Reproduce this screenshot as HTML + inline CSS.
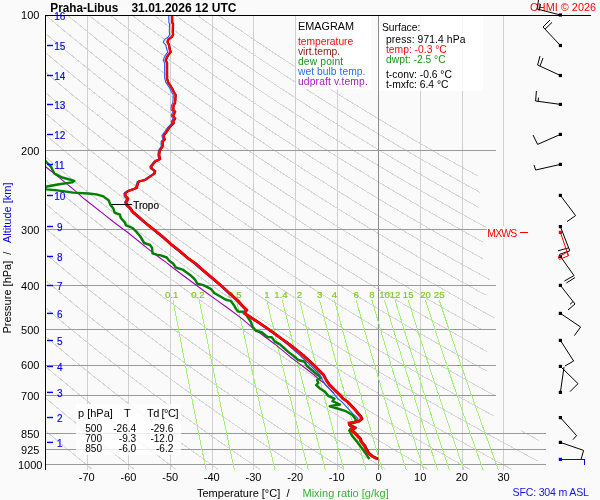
<!DOCTYPE html>
<html lang="cs"><head><meta charset="utf-8"><title>Praha-Libus EMAGRAM</title>
<style>html,body{margin:0;padding:0;background:#fafafa;overflow:hidden}svg{display:block;will-change:transform;opacity:0.999}</style>
</head><body>
<svg width="600" height="500" viewBox="0 0 600 500" font-family="'Liberation Sans', sans-serif">
<rect x="0" y="0" width="600" height="500" fill="#fafafa"/>
<defs><clipPath id="cp"><rect x="45.5" y="15.5" width="520" height="454.3"/></clipPath></defs>
<g stroke="#d6d6d6" stroke-width="1" fill="none" clip-path="url(#cp)" shape-rendering="crispEdges">
<polyline points="30.9,418.3 32.1,419.2 33.2,420.2 34.4,421.2 35.5,422.2 36.6,423.2 37.7,424.1 38.9,425.1 40.0,426.0 41.1,427.0 42.2,427.9 43.3,428.9 44.4,429.8 45.5,430.7 46.6,431.7 47.7,432.6 48.8,433.5 49.9,434.4 50.9,435.3 52.0,436.2 53.1,437.1 54.2,438.0 55.2,438.9 56.3,439.8 57.3,440.7 58.4,441.6 59.4,442.5 60.5,443.3 61.5,444.2 62.6,445.1 63.6,445.9 64.6,446.8 65.7,447.7 66.7,448.5 67.7,449.4 68.8,450.2 69.8,451.0 70.8,451.9 71.8,452.7 72.8,453.5 73.8,454.4 74.8,455.2 75.8,456.0 76.8,456.8 77.8,457.6 78.8,458.4 79.8,459.3 80.8,460.1 81.8,460.9 82.7,461.6 83.7,462.4 84.7,463.2 85.7,464.0 86.6,464.8 87.6,465.6 88.6,466.4 89.5,467.1 90.5,467.9 91.4,468.7 92.4,469.4"/>
<polyline points="30.2,384.8 31.6,386.0 33.0,387.2 34.3,388.3 35.6,389.5 37.0,390.6 38.3,391.7 39.6,392.9 40.9,394.0 42.3,395.1 43.6,396.2 44.9,397.3 46.2,398.4 47.5,399.5 48.7,400.6 50.0,401.7 51.3,402.8 52.6,403.9 53.8,404.9 55.1,406.0 56.3,407.0 57.6,408.1 58.8,409.1 60.1,410.2 61.3,411.2 62.6,412.2 63.8,413.2 65.0,414.3 66.2,415.3 67.4,416.3 68.7,417.3 69.9,418.3 71.1,419.2 72.3,420.2 73.4,421.2 74.6,422.2 75.8,423.2 77.0,424.1 78.2,425.1 79.3,426.0 80.5,427.0 81.7,427.9 82.8,428.9 84.0,429.8 85.1,430.7 86.3,431.7 87.4,432.6 88.6,433.5 89.7,434.4 90.8,435.3 92.0,436.2 93.1,437.1 94.2,438.0 95.3,438.9 96.4,439.8 97.6,440.7 98.7,441.6 99.8,442.5 100.9,443.3 102.0,444.2 103.1,445.1 104.1,445.9 105.2,446.8 106.3,447.7 107.4,448.5 108.5,449.4 109.5,450.2 110.6,451.0 111.7,451.9 112.7,452.7 113.8,453.5 114.9,454.4 115.9,455.2 117.0,456.0 118.0,456.8 119.0,457.6 120.1,458.4 121.1,459.3 122.2,460.1 123.2,460.9 124.2,461.6 125.2,462.4 126.3,463.2 127.3,464.0 128.3,464.8 129.3,465.6 130.3,466.4 131.3,467.1 132.3,467.9 133.3,468.7 134.3,469.4"/>
<polyline points="31.2,354.3 32.8,355.7 34.4,357.0 36.0,358.4 37.5,359.7 39.1,361.1 40.6,362.4 42.2,363.7 43.7,365.0 45.2,366.3 46.8,367.6 48.3,368.9 49.8,370.2 51.3,371.4 52.8,372.7 54.2,373.9 55.7,375.2 57.2,376.4 58.7,377.6 60.1,378.8 61.6,380.0 63.0,381.2 64.5,382.4 65.9,383.6 67.3,384.8 68.7,386.0 70.2,387.2 71.6,388.3 73.0,389.5 74.4,390.6 75.7,391.7 77.1,392.9 78.5,394.0 79.9,395.1 81.3,396.2 82.6,397.3 84.0,398.4 85.3,399.5 86.7,400.6 88.0,401.7 89.3,402.8 90.7,403.9 92.0,404.9 93.3,406.0 94.6,407.0 95.9,408.1 97.3,409.1 98.6,410.2 99.8,411.2 101.1,412.2 102.4,413.2 103.7,414.3 105.0,415.3 106.3,416.3 107.5,417.3 108.8,418.3 110.0,419.2 111.3,420.2 112.5,421.2 113.8,422.2 115.0,423.2 116.3,424.1 117.5,425.1 118.7,426.0 119.9,427.0 121.2,427.9 122.4,428.9 123.6,429.8 124.8,430.7 126.0,431.7 127.2,432.6 128.4,433.5 129.6,434.4 130.8,435.3 131.9,436.2 133.1,437.1 134.3,438.0 135.5,438.9 136.6,439.8 137.8,440.7 138.9,441.6 140.1,442.5 141.2,443.3 142.4,444.2 143.5,445.1 144.7,445.9 145.8,446.8 146.9,447.7 148.1,448.5 149.2,449.4 150.3,450.2 151.4,451.0 152.6,451.9 153.7,452.7 154.8,453.5 155.9,454.4 157.0,455.2 158.1,456.0 159.2,456.8 160.3,457.6 161.4,458.4 162.5,459.3 163.5,460.1 164.6,460.9 165.7,461.6 166.8,462.4 167.8,463.2 168.9,464.0 170.0,464.8 171.0,465.6 172.1,466.4 173.1,467.1 174.2,467.9 175.2,468.7 176.3,469.4"/>
<polyline points="31.6,324.7 33.4,326.2 35.3,327.8 37.1,329.4 38.9,331.0 40.7,332.5 42.5,334.0 44.3,335.5 46.1,337.1 47.9,338.6 49.6,340.0 51.4,341.5 53.1,343.0 54.8,344.4 56.5,345.9 58.3,347.3 60.0,348.7 61.6,350.1 63.3,351.5 65.0,352.9 66.7,354.3 68.3,355.7 70.0,357.0 71.6,358.4 73.3,359.7 74.9,361.1 76.5,362.4 78.1,363.7 79.7,365.0 81.3,366.3 82.9,367.6 84.5,368.9 86.1,370.2 87.6,371.4 89.2,372.7 90.7,373.9 92.3,375.2 93.8,376.4 95.3,377.6 96.9,378.8 98.4,380.0 99.9,381.2 101.4,382.4 102.9,383.6 104.4,384.8 105.9,386.0 107.3,387.2 108.8,388.3 110.3,389.5 111.7,390.6 113.2,391.7 114.6,392.9 116.1,394.0 117.5,395.1 118.9,396.2 120.4,397.3 121.8,398.4 123.2,399.5 124.6,400.6 126.0,401.7 127.4,402.8 128.8,403.9 130.2,404.9 131.6,406.0 132.9,407.0 134.3,408.1 135.7,409.1 137.0,410.2 138.4,411.2 139.7,412.2 141.1,413.2 142.4,414.3 143.7,415.3 145.1,416.3 146.4,417.3 147.7,418.3 149.0,419.2 150.3,420.2 151.6,421.2 152.9,422.2 154.2,423.2 155.5,424.1 156.8,425.1 158.1,426.0 159.4,427.0 160.6,427.9 161.9,428.9 163.2,429.8 164.4,430.7 165.7,431.7 166.9,432.6 168.2,433.5 169.4,434.4 170.7,435.3 171.9,436.2 173.1,437.1 174.4,438.0 175.6,438.9 176.8,439.8 178.0,440.7 179.2,441.6 180.4,442.5 181.6,443.3 182.8,444.2 184.0,445.1 185.2,445.9 186.4,446.8 187.6,447.7 188.8,448.5 189.9,449.4 191.1,450.2 192.3,451.0 193.4,451.9 194.6,452.7 195.8,453.5 196.9,454.4 198.1,455.2 199.2,456.0 200.4,456.8 201.5,457.6 202.6,458.4 203.8,459.3 204.9,460.1 206.0,460.9 207.2,461.6 208.3,462.4 209.4,463.2 210.5,464.0 211.6,464.8 212.7,465.6 213.8,466.4 214.9,467.1 216.0,467.9 217.1,468.7 218.2,469.4"/>
<polyline points="30.9,295.3 33.0,297.2 35.2,299.0 37.3,300.8 39.4,302.6 41.5,304.4 43.6,306.2 45.6,307.9 47.7,309.7 49.7,311.4 51.7,313.1 53.7,314.8 55.7,316.5 57.7,318.1 59.7,319.8 61.6,321.4 63.6,323.0 65.5,324.7 67.5,326.2 69.4,327.8 71.3,329.4 73.2,331.0 75.1,332.5 76.9,334.0 78.8,335.5 80.7,337.1 82.5,338.6 84.3,340.0 86.1,341.5 88.0,343.0 89.8,344.4 91.6,345.9 93.3,347.3 95.1,348.7 96.9,350.1 98.6,351.5 100.4,352.9 102.1,354.3 103.9,355.7 105.6,357.0 107.3,358.4 109.0,359.7 110.7,361.1 112.4,362.4 114.1,363.7 115.7,365.0 117.4,366.3 119.0,367.6 120.7,368.9 122.3,370.2 124.0,371.4 125.6,372.7 127.2,373.9 128.8,375.2 130.4,376.4 132.0,377.6 133.6,378.8 135.2,380.0 136.8,381.2 138.3,382.4 139.9,383.6 141.4,384.8 143.0,386.0 144.5,387.2 146.1,388.3 147.6,389.5 149.1,390.6 150.6,391.7 152.1,392.9 153.6,394.0 155.1,395.1 156.6,396.2 158.1,397.3 159.6,398.4 161.1,399.5 162.5,400.6 164.0,401.7 165.5,402.8 166.9,403.9 168.4,404.9 169.8,406.0 171.2,407.0 172.6,408.1 174.1,409.1 175.5,410.2 176.9,411.2 178.3,412.2 179.7,413.2 181.1,414.3 182.5,415.3 183.9,416.3 185.3,417.3 186.6,418.3 188.0,419.2 189.4,420.2 190.7,421.2 192.1,422.2 193.4,423.2 194.8,424.1 196.1,425.1 197.5,426.0 198.8,427.0 200.1,427.9 201.4,428.9 202.8,429.8 204.1,430.7 205.4,431.7 206.7,432.6 208.0,433.5 209.3,434.4 210.6,435.3 211.9,436.2 213.1,437.1 214.4,438.0 215.7,438.9 217.0,439.8 218.2,440.7 219.5,441.6 220.8,442.5 222.0,443.3 223.3,444.2 224.5,445.1 225.7,445.9 227.0,446.8 228.2,447.7 229.5,448.5 230.7,449.4 231.9,450.2 233.1,451.0 234.3,451.9 235.5,452.7 236.8,453.5 238.0,454.4 239.2,455.2 240.4,456.0 241.6,456.8 242.7,457.6 243.9,458.4 245.1,459.3 246.3,460.1 247.5,460.9 248.6,461.6 249.8,462.4 251.0,463.2 252.1,464.0 253.3,464.8 254.5,465.6 255.6,466.4 256.8,467.1 257.9,467.9 259.0,468.7 260.2,469.4"/>
<polyline points="30.4,267.4 32.9,269.5 35.4,271.6 37.8,273.7 40.2,275.8 42.6,277.8 45.0,279.9 47.4,281.9 49.7,283.8 52.0,285.8 54.3,287.8 56.6,289.7 58.9,291.6 61.2,293.5 63.4,295.3 65.7,297.2 67.9,299.0 70.1,300.8 72.3,302.6 74.4,304.4 76.6,306.2 78.7,307.9 80.9,309.7 83.0,311.4 85.1,313.1 87.2,314.8 89.3,316.5 91.3,318.1 93.4,319.8 95.4,321.4 97.5,323.0 99.5,324.7 101.5,326.2 103.5,327.8 105.5,329.4 107.4,331.0 109.4,332.5 111.3,334.0 113.3,335.5 115.2,337.1 117.1,338.6 119.0,340.0 120.9,341.5 122.8,343.0 124.7,344.4 126.6,345.9 128.4,347.3 130.3,348.7 132.1,350.1 133.9,351.5 135.8,352.9 137.6,354.3 139.4,355.7 141.2,357.0 142.9,358.4 144.7,359.7 146.5,361.1 148.2,362.4 150.0,363.7 151.7,365.0 153.5,366.3 155.2,367.6 156.9,368.9 158.6,370.2 160.3,371.4 162.0,372.7 163.7,373.9 165.4,375.2 167.0,376.4 168.7,377.6 170.4,378.8 172.0,380.0 173.6,381.2 175.3,382.4 176.9,383.6 178.5,384.8 180.1,386.0 181.7,387.2 183.3,388.3 184.9,389.5 186.5,390.6 188.1,391.7 189.7,392.9 191.2,394.0 192.8,395.1 194.3,396.2 195.9,397.3 197.4,398.4 198.9,399.5 200.5,400.6 202.0,401.7 203.5,402.8 205.0,403.9 206.5,404.9 208.0,406.0 209.5,407.0 211.0,408.1 212.5,409.1 214.0,410.2 215.4,411.2 216.9,412.2 218.3,413.2 219.8,414.3 221.2,415.3 222.7,416.3 224.1,417.3 225.6,418.3 227.0,419.2 228.4,420.2 229.8,421.2 231.2,422.2 232.6,423.2 234.0,424.1 235.4,425.1 236.8,426.0 238.2,427.0 239.6,427.9 241.0,428.9 242.3,429.8 243.7,430.7 245.1,431.7 246.4,432.6 247.8,433.5 249.1,434.4 250.5,435.3 251.8,436.2 253.2,437.1 254.5,438.0 255.8,438.9 257.1,439.8 258.5,440.7 259.8,441.6 261.1,442.5 262.4,443.3 263.7,444.2 265.0,445.1 266.3,445.9 267.6,446.8 268.9,447.7 270.1,448.5 271.4,449.4 272.7,450.2 274.0,451.0 275.2,451.9 276.5,452.7 277.7,453.5 279.0,454.4 280.2,455.2 281.5,456.0 282.7,456.8 284.0,457.6 285.2,458.4 286.4,459.3 287.7,460.1 288.9,460.9 290.1,461.6 291.3,462.4 292.5,463.2 293.8,464.0 295.0,464.8 296.2,465.6 297.4,466.4 298.6,467.1 299.8,467.9 301.0,468.7 302.1,469.4"/>
<polyline points="32.0,242.2 34.8,244.6 37.6,247.0 40.3,249.4 43.1,251.7 45.8,254.1 48.5,256.3 51.2,258.6 53.8,260.8 56.5,263.0 59.1,265.2 61.7,267.4 64.2,269.5 66.8,271.6 69.3,273.7 71.8,275.8 74.3,277.8 76.8,279.9 79.2,281.9 81.7,283.8 84.1,285.8 86.5,287.8 88.9,289.7 91.3,291.6 93.6,293.5 95.9,295.3 98.3,297.2 100.6,299.0 102.9,300.8 105.1,302.6 107.4,304.4 109.6,306.2 111.9,307.9 114.1,309.7 116.3,311.4 118.5,313.1 120.6,314.8 122.8,316.5 125.0,318.1 127.1,319.8 129.2,321.4 131.3,323.0 133.4,324.7 135.5,326.2 137.6,327.8 139.6,329.4 141.7,331.0 143.7,332.5 145.8,334.0 147.8,335.5 149.8,337.1 151.8,338.6 153.8,340.0 155.7,341.5 157.7,343.0 159.6,344.4 161.6,345.9 163.5,347.3 165.4,348.7 167.3,350.1 169.2,351.5 171.1,352.9 173.0,354.3 174.9,355.7 176.8,357.0 178.6,358.4 180.5,359.7 182.3,361.1 184.1,362.4 185.9,363.7 187.7,365.0 189.5,366.3 191.3,367.6 193.1,368.9 194.9,370.2 196.7,371.4 198.4,372.7 200.2,373.9 201.9,375.2 203.6,376.4 205.4,377.6 207.1,378.8 208.8,380.0 210.5,381.2 212.2,382.4 213.9,383.6 215.6,384.8 217.3,386.0 218.9,387.2 220.6,388.3 222.2,389.5 223.9,390.6 225.5,391.7 227.2,392.9 228.8,394.0 230.4,395.1 232.0,396.2 233.6,397.3 235.2,398.4 236.8,399.5 238.4,400.6 240.0,401.7 241.6,402.8 243.1,403.9 244.7,404.9 246.3,406.0 247.8,407.0 249.3,408.1 250.9,409.1 252.4,410.2 253.9,411.2 255.5,412.2 257.0,413.2 258.5,414.3 260.0,415.3 261.5,416.3 263.0,417.3 264.5,418.3 266.0,419.2 267.4,420.2 268.9,421.2 270.4,422.2 271.8,423.2 273.3,424.1 274.8,425.1 276.2,426.0 277.6,427.0 279.1,427.9 280.5,428.9 281.9,429.8 283.4,430.7 284.8,431.7 286.2,432.6 287.6,433.5 289.0,434.4 290.4,435.3 291.8,436.2 293.2,437.1 294.6,438.0 295.9,438.9 297.3,439.8 298.7,440.7 300.0,441.6 301.4,442.5 302.8,443.3 304.1,444.2 305.5,445.1 306.8,445.9 308.2,446.8 309.5,447.7 310.8,448.5 312.1,449.4 313.5,450.2 314.8,451.0 316.1,451.9 317.4,452.7 318.7,453.5 320.0,454.4 321.3,455.2 322.6,456.0 323.9,456.8 325.2,457.6 326.5,458.4 327.8,459.3 329.0,460.1 330.3,460.9 331.6,461.6 332.9,462.4 334.1,463.2 335.4,464.0 336.6,464.8 337.9,465.6 339.1,466.4 340.4,467.1 341.6,467.9 342.9,468.7 344.1,469.4"/>
<polyline points="31.3,216.1 34.5,218.9 37.7,221.6 40.8,224.3 44.0,227.0 47.0,229.6 50.1,232.2 53.1,234.8 56.1,237.3 59.1,239.8 62.1,242.2 65.0,244.6 67.9,247.0 70.8,249.4 73.6,251.7 76.4,254.1 79.2,256.3 82.0,258.6 84.7,260.8 87.5,263.0 90.2,265.2 92.9,267.4 95.5,269.5 98.2,271.6 100.8,273.7 103.4,275.8 106.0,277.8 108.6,279.9 111.1,281.9 113.7,283.8 116.2,285.8 118.7,287.8 121.1,289.7 123.6,291.6 126.0,293.5 128.5,295.3 130.9,297.2 133.3,299.0 135.6,300.8 138.0,302.6 140.3,304.4 142.7,306.2 145.0,307.9 147.3,309.7 149.6,311.4 151.8,313.1 154.1,314.8 156.4,316.5 158.6,318.1 160.8,319.8 163.0,321.4 165.2,323.0 167.4,324.7 169.5,326.2 171.7,327.8 173.8,329.4 176.0,331.0 178.1,332.5 180.2,334.0 182.3,335.5 184.3,337.1 186.4,338.6 188.5,340.0 190.5,341.5 192.6,343.0 194.6,344.4 196.6,345.9 198.6,347.3 200.6,348.7 202.6,350.1 204.6,351.5 206.5,352.9 208.5,354.3 210.4,355.7 212.3,357.0 214.3,358.4 216.2,359.7 218.1,361.1 220.0,362.4 221.9,363.7 223.8,365.0 225.6,366.3 227.5,367.6 229.3,368.9 231.2,370.2 233.0,371.4 234.8,372.7 236.7,373.9 238.5,375.2 240.3,376.4 242.1,377.6 243.8,378.8 245.6,380.0 247.4,381.2 249.1,382.4 250.9,383.6 252.6,384.8 254.4,386.0 256.1,387.2 257.8,388.3 259.6,389.5 261.3,390.6 263.0,391.7 264.7,392.9 266.4,394.0 268.0,395.1 269.7,396.2 271.4,397.3 273.0,398.4 274.7,399.5 276.3,400.6 278.0,401.7 279.6,402.8 281.2,403.9 282.9,404.9 284.5,406.0 286.1,407.0 287.7,408.1 289.3,409.1 290.9,410.2 292.5,411.2 294.1,412.2 295.6,413.2 297.2,414.3 298.8,415.3 300.3,416.3 301.9,417.3 303.4,418.3 304.9,419.2 306.5,420.2 308.0,421.2 309.5,422.2 311.0,423.2 312.6,424.1 314.1,425.1 315.6,426.0 317.1,427.0 318.6,427.9 320.0,428.9 321.5,429.8 323.0,430.7 324.5,431.7 325.9,432.6 327.4,433.5 328.8,434.4 330.3,435.3 331.7,436.2 333.2,437.1 334.6,438.0 336.1,438.9 337.5,439.8 338.9,440.7 340.3,441.6 341.7,442.5 343.1,443.3 344.6,444.2 346.0,445.1 347.3,445.9 348.7,446.8 350.1,447.7 351.5,448.5 352.9,449.4 354.3,450.2 355.6,451.0 357.0,451.9 358.4,452.7 359.7,453.5 361.1,454.4 362.4,455.2 363.8,456.0 365.1,456.8 366.4,457.6 367.8,458.4 369.1,459.3 370.4,460.1 371.7,460.9 373.1,461.6 374.4,462.4 375.7,463.2 377.0,464.0 378.3,464.8 379.6,465.6 380.9,466.4 382.2,467.1 383.5,467.9 384.8,468.7 386.0,469.4"/>
<polyline points="32.3,192.4 35.9,195.5 39.5,198.6 43.1,201.7 46.6,204.6 50.1,207.6 53.5,210.5 56.9,213.3 60.3,216.1 63.6,218.9 66.9,221.6 70.2,224.3 73.4,227.0 76.6,229.6 79.8,232.2 82.9,234.8 86.0,237.3 89.1,239.8 92.1,242.2 95.2,244.6 98.2,247.0 101.2,249.4 104.1,251.7 107.0,254.1 109.9,256.3 112.8,258.6 115.7,260.8 118.5,263.0 121.3,265.2 124.1,267.4 126.9,269.5 129.6,271.6 132.3,273.7 135.0,275.8 137.7,277.8 140.4,279.9 143.0,281.9 145.6,283.8 148.2,285.8 150.8,287.8 153.4,289.7 155.9,291.6 158.5,293.5 161.0,295.3 163.5,297.2 166.0,299.0 168.4,300.8 170.9,302.6 173.3,304.4 175.7,306.2 178.1,307.9 180.5,309.7 182.9,311.4 185.2,313.1 187.6,314.8 189.9,316.5 192.2,318.1 194.5,319.8 196.8,321.4 199.1,323.0 201.3,324.7 203.6,326.2 205.8,327.8 208.0,329.4 210.2,331.0 212.4,332.5 214.6,334.0 216.8,335.5 218.9,337.1 221.1,338.6 223.2,340.0 225.3,341.5 227.4,343.0 229.5,344.4 231.6,345.9 233.7,347.3 235.8,348.7 237.8,350.1 239.9,351.5 241.9,352.9 243.9,354.3 245.9,355.7 247.9,357.0 249.9,358.4 251.9,359.7 253.9,361.1 255.9,362.4 257.8,363.7 259.8,365.0 261.7,366.3 263.6,367.6 265.5,368.9 267.5,370.2 269.4,371.4 271.2,372.7 273.1,373.9 275.0,375.2 276.9,376.4 278.7,377.6 280.6,378.8 282.4,380.0 284.3,381.2 286.1,382.4 287.9,383.6 289.7,384.8 291.5,386.0 293.3,387.2 295.1,388.3 296.9,389.5 298.7,390.6 300.4,391.7 302.2,392.9 303.9,394.0 305.7,395.1 307.4,396.2 309.1,397.3 310.9,398.4 312.6,399.5 314.3,400.6 316.0,401.7 317.7,402.8 319.4,403.9 321.0,404.9 322.7,406.0 324.4,407.0 326.0,408.1 327.7,409.1 329.4,410.2 331.0,411.2 332.6,412.2 334.3,413.2 335.9,414.3 337.5,415.3 339.1,416.3 340.7,417.3 342.3,418.3 343.9,419.2 345.5,420.2 347.1,421.2 348.7,422.2 350.3,423.2 351.8,424.1 353.4,425.1 354.9,426.0 356.5,427.0 358.0,427.9 359.6,428.9 361.1,429.8 362.6,430.7 364.2,431.7 365.7,432.6 367.2,433.5 368.7,434.4 370.2,435.3 371.7,436.2 373.2,437.1 374.7,438.0 376.2,438.9 377.7,439.8 379.1,440.7 380.6,441.6 382.1,442.5 383.5,443.3 385.0,444.2 386.4,445.1 387.9,445.9 389.3,446.8 390.8,447.7 392.2,448.5 393.6,449.4 395.0,450.2 396.5,451.0 397.9,451.9 399.3,452.7 400.7,453.5 402.1,454.4 403.5,455.2 404.9,456.0 406.3,456.8 407.7,457.6 409.1,458.4 410.4,459.3 411.8,460.1 413.2,460.9 414.5,461.6 415.9,462.4 417.3,463.2 418.6,464.0 420.0,464.8 421.3,465.6 422.7,466.4 424.0,467.1 425.3,467.9 426.7,468.7 428.0,469.4"/>
<polyline points="32.7,169.0 36.8,172.5 40.8,176.0 44.8,179.4 48.7,182.7 52.6,186.0 56.5,189.2 60.3,192.4 64.0,195.5 67.8,198.6 71.4,201.7 75.1,204.6 78.7,207.6 82.2,210.5 85.7,213.3 89.2,216.1 92.7,218.9 96.1,221.6 99.5,224.3 102.8,227.0 106.1,229.6 109.4,232.2 112.7,234.8 115.9,237.3 119.1,239.8 122.2,242.2 125.4,244.6 128.5,247.0 131.6,249.4 134.6,251.7 137.6,254.1 140.7,256.3 143.6,258.6 146.6,260.8 149.5,263.0 152.4,265.2 155.3,267.4 158.2,269.5 161.0,271.6 163.8,273.7 166.6,275.8 169.4,277.8 172.2,279.9 174.9,281.9 177.6,283.8 180.3,285.8 183.0,287.8 185.6,289.7 188.3,291.6 190.9,293.5 193.5,295.3 196.1,297.2 198.7,299.0 201.2,300.8 203.7,302.6 206.3,304.4 208.8,306.2 211.2,307.9 213.7,309.7 216.2,311.4 218.6,313.1 221.0,314.8 223.4,316.5 225.8,318.1 228.2,319.8 230.6,321.4 232.9,323.0 235.3,324.7 237.6,326.2 239.9,327.8 242.2,329.4 244.5,331.0 246.7,332.5 249.0,334.0 251.2,335.5 253.5,337.1 255.7,338.6 257.9,340.0 260.1,341.5 262.3,343.0 264.5,344.4 266.6,345.9 268.8,347.3 270.9,348.7 273.0,350.1 275.2,351.5 277.3,352.9 279.4,354.3 281.5,355.7 283.5,357.0 285.6,358.4 287.6,359.7 289.7,361.1 291.7,362.4 293.8,363.7 295.8,365.0 297.8,366.3 299.8,367.6 301.8,368.9 303.7,370.2 305.7,371.4 307.7,372.7 309.6,373.9 311.6,375.2 313.5,376.4 315.4,377.6 317.3,378.8 319.2,380.0 321.1,381.2 323.0,382.4 324.9,383.6 326.8,384.8 328.6,386.0 330.5,387.2 332.4,388.3 334.2,389.5 336.0,390.6 337.9,391.7 339.7,392.9 341.5,394.0 343.3,395.1 345.1,396.2 346.9,397.3 348.7,398.4 350.4,399.5 352.2,400.6 354.0,401.7 355.7,402.8 357.5,403.9 359.2,404.9 360.9,406.0 362.7,407.0 364.4,408.1 366.1,409.1 367.8,410.2 369.5,411.2 371.2,412.2 372.9,413.2 374.6,414.3 376.3,415.3 377.9,416.3 379.6,417.3 381.3,418.3 382.9,419.2 384.6,420.2 386.2,421.2 387.8,422.2 389.5,423.2 391.1,424.1 392.7,425.1 394.3,426.0 395.9,427.0 397.5,427.9 399.1,428.9 400.7,429.8 402.3,430.7 403.9,431.7 405.4,432.6 407.0,433.5 408.6,434.4 410.1,435.3 411.7,436.2 413.2,437.1 414.8,438.0 416.3,438.9 417.8,439.8 419.4,440.7 420.9,441.6 422.4,442.5 423.9,443.3 425.4,444.2 426.9,445.1 428.4,445.9 429.9,446.8 431.4,447.7 432.9,448.5 434.4,449.4 435.8,450.2 437.3,451.0 438.8,451.9 440.2,452.7 441.7,453.5 443.1,454.4 444.6,455.2 446.0,456.0 447.5,456.8 448.9,457.6 450.3,458.4 451.8,459.3 453.2,460.1 454.6,460.9 456.0,461.6 457.4,462.4 458.8,463.2 460.2,464.0 461.6,464.8 463.0,465.6 464.4,466.4 465.8,467.1 467.2,467.9 468.6,468.7 469.9,469.4"/>
<polyline points="33.1,146.5 37.7,150.4 42.2,154.3 46.7,158.1 51.1,161.8 55.4,165.4 59.7,169.0 64.0,172.5 68.1,176.0 72.3,179.4 76.3,182.7 80.4,186.0 84.3,189.2 88.3,192.4 92.1,195.5 96.0,198.6 99.8,201.7 103.5,204.6 107.3,207.6 110.9,210.5 114.6,213.3 118.2,216.1 121.8,218.9 125.3,221.6 128.8,224.3 132.2,227.0 135.7,229.6 139.1,232.2 142.4,234.8 145.8,237.3 149.1,239.8 152.3,242.2 155.6,244.6 158.8,247.0 162.0,249.4 165.1,251.7 168.3,254.1 171.4,256.3 174.5,258.6 177.5,260.8 180.5,263.0 183.5,265.2 186.5,267.4 189.5,269.5 192.4,271.6 195.3,273.7 198.2,275.8 201.1,277.8 203.9,279.9 206.8,281.9 209.6,283.8 212.4,285.8 215.1,287.8 217.9,289.7 220.6,291.6 223.3,293.5 226.0,295.3 228.7,297.2 231.3,299.0 234.0,300.8 236.6,302.6 239.2,304.4 241.8,306.2 244.4,307.9 246.9,309.7 249.5,311.4 252.0,313.1 254.5,314.8 257.0,316.5 259.5,318.1 261.9,319.8 264.4,321.4 266.8,323.0 269.2,324.7 271.6,326.2 274.0,327.8 276.4,329.4 278.7,331.0 281.1,332.5 283.4,334.0 285.7,335.5 288.0,337.1 290.3,338.6 292.6,340.0 294.9,341.5 297.2,343.0 299.4,344.4 301.6,345.9 303.9,347.3 306.1,348.7 308.3,350.1 310.5,351.5 312.6,352.9 314.8,354.3 317.0,355.7 319.1,357.0 321.3,358.4 323.4,359.7 325.5,361.1 327.6,362.4 329.7,363.7 331.8,365.0 333.9,366.3 335.9,367.6 338.0,368.9 340.0,370.2 342.1,371.4 344.1,372.7 346.1,373.9 348.1,375.2 350.1,376.4 352.1,377.6 354.1,378.8 356.0,380.0 358.0,381.2 360.0,382.4 361.9,383.6 363.8,384.8 365.8,386.0 367.7,387.2 369.6,388.3 371.5,389.5 373.4,390.6 375.3,391.7 377.2,392.9 379.1,394.0 380.9,395.1 382.8,396.2 384.6,397.3 386.5,398.4 388.3,399.5 390.1,400.6 392.0,401.7 393.8,402.8 395.6,403.9 397.4,404.9 399.2,406.0 401.0,407.0 402.7,408.1 404.5,409.1 406.3,410.2 408.0,411.2 409.8,412.2 411.5,413.2 413.3,414.3 415.0,415.3 416.7,416.3 418.5,417.3 420.2,418.3 421.9,419.2 423.6,420.2 425.3,421.2 427.0,422.2 428.7,423.2 430.3,424.1 432.0,425.1 433.7,426.0 435.3,427.0 437.0,427.9 438.6,428.9 440.3,429.8 441.9,430.7 443.6,431.7 445.2,432.6 446.8,433.5 448.4,434.4 450.0,435.3 451.6,436.2 453.2,437.1 454.8,438.0 456.4,438.9 458.0,439.8 459.6,440.7 461.2,441.6 462.7,442.5 464.3,443.3 465.8,444.2 467.4,445.1 468.9,445.9 470.5,446.8 472.0,447.7 473.6,448.5 475.1,449.4 476.6,450.2 478.1,451.0 479.7,451.9 481.2,452.7 482.7,453.5 484.2,454.4 485.7,455.2 487.2,456.0 488.7,456.8 490.1,457.6 491.6,458.4 493.1,459.3 494.6,460.1 496.0,460.9 497.5,461.6 499.0,462.4 500.4,463.2 501.9,464.0 503.3,464.8 504.7,465.6 506.2,466.4 507.6,467.1 509.0,467.9 510.5,468.7 511.9,469.4"/>
<polyline points="34.5,125.4 39.6,129.8 44.6,134.1 49.6,138.3 54.5,142.4 59.3,146.5 64.0,150.4 68.7,154.3 73.3,158.1 77.8,161.8 82.3,165.4 86.8,169.0 91.1,172.5 95.4,176.0 99.7,179.4 103.9,182.7 108.1,186.0 112.2,189.2 116.2,192.4 120.3,195.5 124.2,198.6 128.1,201.7 132.0,204.6 135.9,207.6 139.7,210.5 143.4,213.3 147.1,216.1 150.8,218.9 154.5,221.6 158.1,224.3 161.7,227.0 165.2,229.6 168.7,232.2 172.2,234.8 175.6,237.3 179.0,239.8 182.4,242.2 185.8,244.6 189.1,247.0 192.4,249.4 195.6,251.7 198.9,254.1 202.1,256.3 205.3,258.6 208.4,260.8 211.6,263.0 214.7,265.2 217.7,267.4 220.8,269.5 223.8,271.6 226.8,273.7 229.8,275.8 232.8,277.8 235.7,279.9 238.7,281.9 241.6,283.8 244.4,285.8 247.3,287.8 250.1,289.7 253.0,291.6 255.8,293.5 258.5,295.3 261.3,297.2 264.0,299.0 266.8,300.8 269.5,302.6 272.2,304.4 274.8,306.2 277.5,307.9 280.1,309.7 282.8,311.4 285.4,313.1 287.9,314.8 290.5,316.5 293.1,318.1 295.6,319.8 298.1,321.4 300.7,323.0 303.1,324.7 305.6,326.2 308.1,327.8 310.6,329.4 313.0,331.0 315.4,332.5 317.8,334.0 320.2,335.5 322.6,337.1 325.0,338.6 327.3,340.0 329.7,341.5 332.0,343.0 334.3,344.4 336.7,345.9 339.0,347.3 341.2,348.7 343.5,350.1 345.8,351.5 348.0,352.9 350.3,354.3 352.5,355.7 354.7,357.0 356.9,358.4 359.1,359.7 361.3,361.1 363.5,362.4 365.6,363.7 367.8,365.0 369.9,366.3 372.1,367.6 374.2,368.9 376.3,370.2 378.4,371.4 380.5,372.7 382.6,373.9 384.6,375.2 386.7,376.4 388.8,377.6 390.8,378.8 392.9,380.0 394.9,381.2 396.9,382.4 398.9,383.6 400.9,384.8 402.9,386.0 404.9,387.2 406.9,388.3 408.8,389.5 410.8,390.6 412.7,391.7 414.7,392.9 416.6,394.0 418.6,395.1 420.5,396.2 422.4,397.3 424.3,398.4 426.2,399.5 428.1,400.6 430.0,401.7 431.8,402.8 433.7,403.9 435.6,404.9 437.4,406.0 439.3,407.0 441.1,408.1 442.9,409.1 444.8,410.2 446.6,411.2 448.4,412.2 450.2,413.2 452.0,414.3 453.8,415.3 455.6,416.3 457.3,417.3 459.1,418.3 460.9,419.2 462.6,420.2 464.4,421.2 466.1,422.2 467.9,423.2 469.6,424.1 471.3,425.1 473.0,426.0 474.8,427.0 476.5,427.9 478.2,428.9 479.9,429.8 481.6,430.7 483.2,431.7 484.9,432.6 486.6,433.5 488.3,434.4 489.9,435.3 491.6,436.2 493.2,437.1 494.9,438.0 496.5,438.9 498.2,439.8 499.8,440.7 501.4,441.6 503.1,442.5 504.7,443.3 506.3,444.2 507.9,445.1 509.5,445.9 511.1,446.8 512.7,447.7 514.3,448.5 515.8,449.4 517.4,450.2 519.0,451.0 520.5,451.9 522.1,452.7 523.7,453.5 525.2,454.4 526.8,455.2 528.3,456.0 529.8,456.8 531.4,457.6 532.9,458.4 534.4,459.3 535.9,460.1 537.5,460.9"/>
<polyline points="32.1,101.9 37.8,106.8 43.5,111.6 49.0,116.3 54.5,120.9 59.8,125.4 65.1,129.8 70.3,134.1 75.4,138.3 80.5,142.4 85.4,146.5 90.3,150.4 95.2,154.3 99.9,158.1 104.6,161.8 109.2,165.4 113.8,169.0 118.3,172.5 122.8,176.0 127.2,179.4 131.5,182.7 135.8,186.0 140.0,189.2 144.2,192.4 148.4,195.5 152.5,198.6 156.5,201.7 160.5,204.6 164.5,207.6 168.4,210.5 172.3,213.3 176.1,216.1 179.9,218.9 183.7,221.6 187.4,224.3 191.1,227.0 194.7,229.6 198.4,232.2 201.9,234.8 205.5,237.3 209.0,239.8 212.5,242.2 216.0,244.6 219.4,247.0 222.8,249.4 226.2,251.7 229.5,254.1 232.8,256.3 236.1,258.6 239.3,260.8 242.6,263.0 245.8,265.2 249.0,267.4 252.1,269.5 255.2,271.6 258.4,273.7 261.4,275.8 264.5,277.8 267.5,279.9 270.5,281.9 273.5,283.8 276.5,285.8 279.5,287.8 282.4,289.7 285.3,291.6 288.2,293.5 291.1,295.3 293.9,297.2 296.7,299.0 299.6,300.8 302.3,302.6 305.1,304.4 307.9,306.2 310.6,307.9 313.3,309.7 316.0,311.4 318.7,313.1 321.4,314.8 324.1,316.5 326.7,318.1 329.3,319.8 331.9,321.4 334.5,323.0 337.1,324.7 339.7,326.2 342.2,327.8 344.7,329.4 347.3,331.0 349.8,332.5 352.2,334.0 354.7,335.5 357.2,337.1 359.6,338.6 362.1,340.0 364.5,341.5 366.9,343.0 369.3,344.4 371.7,345.9 374.0,347.3 376.4,348.7 378.7,350.1 381.1,351.5 383.4,352.9 385.7,354.3 388.0,355.7 390.3,357.0 392.6,358.4 394.8,359.7 397.1,361.1 399.3,362.4 401.6,363.7 403.8,365.0 406.0,366.3 408.2,367.6 410.4,368.9 412.6,370.2 414.7,371.4 416.9,372.7 419.1,373.9 421.2,375.2 423.3,376.4 425.4,377.6 427.6,378.8 429.7,380.0 431.8,381.2 433.8,382.4 435.9,383.6 438.0,384.8 440.0,386.0 442.1,387.2 444.1,388.3 446.2,389.5 448.2,390.6 450.2,391.7 452.2,392.9 454.2,394.0 456.2,395.1 458.2,396.2 460.1,397.3 462.1,398.4 464.1,399.5 466.0,400.6 468.0,401.7 469.9,402.8 471.8,403.9 473.7,404.9 475.6,406.0 477.5,407.0 479.4,408.1 481.3,409.1 483.2,410.2 485.1,411.2 487.0,412.2 488.8,413.2 490.7,414.3 492.5,415.3 494.4,416.3"/>
<polyline points="31.7,80.7 38.1,86.2 44.4,91.6 50.5,96.8 56.6,101.9 62.5,106.8 68.3,111.6 74.0,116.3 79.7,120.9 85.2,125.4 90.6,129.8 96.0,134.1 101.3,138.3 106.5,142.4 111.6,146.5 116.6,150.4 121.6,154.3 126.5,158.1 131.3,161.8 136.1,165.4 140.8,169.0 145.5,172.5 150.1,176.0 154.6,179.4 159.1,182.7 163.5,186.0 167.9,189.2 172.2,192.4 176.5,195.5 180.7,198.6 184.9,201.7 189.0,204.6 193.1,207.6 197.1,210.5 201.1,213.3 205.1,216.1 209.0,218.9 212.9,221.6 216.7,224.3 220.5,227.0 224.3,229.6 228.0,232.2 231.7,234.8 235.4,237.3 239.0,239.8 242.6,242.2 246.2,244.6 249.7,247.0 253.2,249.4 256.7,251.7 260.1,254.1 263.5,256.3 266.9,258.6 270.3,260.8 273.6,263.0 276.9,265.2 280.2,267.4 283.4,269.5 286.7,271.6 289.9,273.7 293.0,275.8 296.2,277.8 299.3,279.9 302.4,281.9 305.5,283.8 308.6,285.8 311.6,287.8 314.6,289.7 317.6,291.6 320.6,293.5 323.6,295.3 326.5,297.2 329.4,299.0 332.3,300.8 335.2,302.6 338.1,304.4 340.9,306.2 343.7,307.9 346.5,309.7 349.3,311.4 352.1,313.1 354.9,314.8 357.6,316.5 360.3,318.1 363.0,319.8 365.7,321.4 368.4,323.0 371.0,324.7 373.7,326.2 376.3,327.8 378.9,329.4 381.5,331.0 384.1,332.5 386.7,334.0 389.2,335.5 391.7,337.1 394.3,338.6 396.8,340.0 399.3,341.5 401.8,343.0 404.2,344.4 406.7,345.9 409.1,347.3 411.6,348.7 414.0,350.1 416.4,351.5 418.8,352.9 421.2,354.3 423.5,355.7 425.9,357.0 428.2,358.4 430.6,359.7 432.9,361.1 435.2,362.4 437.5,363.7 439.8,365.0 442.1,366.3 444.4,367.6 446.6,368.9 448.9,370.2 451.1,371.4 453.3,372.7 455.5,373.9 457.7,375.2 459.9,376.4 462.1,377.6 464.3,378.8 466.5,380.0 468.6,381.2 470.8,382.4 472.9,383.6 475.0,384.8 477.2,386.0 479.3,387.2 481.4,388.3 483.5,389.5 485.6,390.6 487.6,391.7 489.7,392.9 491.8,394.0 493.8,395.1"/>
<polyline points="34.9,63.2 41.9,69.2 48.8,75.1 55.5,80.7 62.1,86.2 68.5,91.6 74.9,96.8 81.1,101.9 87.2,106.8 93.2,111.6 99.1,116.3 104.9,120.9 110.6,125.4 116.2,129.8 121.7,134.1 127.1,138.3 132.5,142.4 137.7,146.5 142.9,150.4 148.1,154.3 153.1,158.1 158.1,161.8 163.0,165.4 167.9,169.0 172.7,172.5 177.4,176.0 182.0,179.4 186.7,182.7 191.2,186.0 195.7,189.2 200.2,192.4 204.6,195.5 208.9,198.6 213.2,201.7 217.5,204.6 221.7,207.6 225.8,210.5 230.0,213.3 234.0,216.1 238.1,218.9 242.1,221.6 246.0,224.3 249.9,227.0 253.8,229.6 257.7,232.2 261.5,234.8 265.2,237.3 269.0,239.8 272.7,242.2 276.4,244.6 280.0,247.0 283.6,249.4 287.2,251.7 290.7,254.1 294.2,256.3 297.7,258.6 301.2,260.8 304.6,263.0 308.0,265.2 311.4,267.4 314.7,269.5 318.1,271.6 321.4,273.7 324.6,275.8 327.9,277.8 331.1,279.9 334.3,281.9 337.5,283.8 340.7,285.8 343.8,287.8 346.9,289.7 350.0,291.6 353.1,293.5 356.1,295.3 359.1,297.2 362.1,299.0 365.1,300.8 368.1,302.6 371.0,304.4 374.0,306.2 376.9,307.9 379.8,309.7 382.6,311.4 385.5,313.1 388.3,314.8 391.1,316.5 393.9,318.1 396.7,319.8 399.5,321.4 402.2,323.0 405.0,324.7 407.7,326.2 410.4,327.8 413.1,329.4 415.8,331.0 418.4,332.5 421.1,334.0 423.7,335.5 426.3,337.1 428.9,338.6 431.5,340.0 434.1,341.5 436.6,343.0 439.2,344.4 441.7,345.9 444.2,347.3 446.7,348.7 449.2,350.1 451.7,351.5 454.2,352.9 456.6,354.3 459.1,355.7 461.5,357.0 463.9,358.4 466.3,359.7 468.7,361.1 471.1,362.4 473.5,363.7 475.8,365.0 478.2,366.3 480.5,367.6 482.8,368.9 485.1,370.2 487.4,371.4"/>
<polyline points="35.4,44.0 43.1,50.6 50.6,57.0 58.0,63.2 65.3,69.2 72.3,75.1 79.2,80.7 86.0,86.2 92.7,91.6 99.2,96.8 105.6,101.9 111.9,106.8 118.0,111.6 124.1,116.3 130.1,120.9 135.9,125.4 141.7,129.8 147.4,134.1 153.0,138.3 158.5,142.4 163.9,146.5 169.3,150.4 174.5,154.3 179.7,158.1 184.8,161.8 189.9,165.4 194.9,169.0 199.8,172.5 204.7,176.0 209.5,179.4 214.2,182.7 218.9,186.0 223.6,189.2 228.1,192.4 232.7,195.5 237.1,198.6 241.6,201.7 245.9,204.6 250.3,207.6 254.6,210.5 258.8,213.3 263.0,216.1 267.2,218.9 271.3,221.6 275.3,224.3 279.4,227.0 283.4,229.6 287.3,232.2 291.2,234.8 295.1,237.3 299.0,239.8 302.8,242.2 306.6,244.6 310.3,247.0 314.0,249.4 317.7,251.7 321.3,254.1 325.0,256.3 328.5,258.6 332.1,260.8 335.6,263.0 339.1,265.2 342.6,267.4 346.1,269.5 349.5,271.6 352.9,273.7 356.2,275.8 359.6,277.8 362.9,279.9 366.2,281.9 369.5,283.8 372.7,285.8 375.9,287.8 379.1,289.7 382.3,291.6 385.5,293.5 388.6,295.3 391.7,297.2 394.8,299.0 397.9,300.8 401.0,302.6 404.0,304.4 407.0,306.2 410.0,307.9 413.0,309.7 415.9,311.4 418.9,313.1 421.8,314.8 424.7,316.5 427.6,318.1 430.4,319.8 433.3,321.4 436.1,323.0 438.9,324.7 441.7,326.2 444.5,327.8 447.3,329.4 450.0,331.0 452.8,332.5 455.5,334.0 458.2,335.5 460.9,337.1 463.6,338.6 466.2,340.0 468.9,341.5 471.5,343.0 474.1,344.4 476.7,345.9 479.3,347.3 481.9,348.7 484.4,350.1 487.0,351.5"/>
<polyline points="32.8,22.7 41.3,30.0 49.7,37.1 57.9,44.0 65.8,50.6 73.6,57.0 81.2,63.2 88.6,69.2 95.9,75.1 103.0,80.7 110.0,86.2 116.8,91.6 123.5,96.8 130.1,101.9 136.6,106.8 142.9,111.6 149.1,116.3 155.3,120.9 161.3,125.4 167.2,129.8 173.1,134.1 178.8,138.3 184.5,142.4 190.1,146.5 195.6,150.4 201.0,154.3 206.3,158.1 211.6,161.8 216.8,165.4 221.9,169.0 227.0,172.5 232.0,176.0 236.9,179.4 241.8,182.7 246.6,186.0 251.4,189.2 256.1,192.4 260.8,195.5 265.4,198.6 269.9,201.7 274.4,204.6 278.9,207.6 283.3,210.5 287.6,213.3 292.0,216.1 296.2,218.9 300.5,221.6 304.6,224.3 308.8,227.0 312.9,229.6 317.0,232.2 321.0,234.8 325.0,237.3 328.9,239.8 332.9,242.2 336.7,244.6 340.6,247.0 344.4,249.4 348.2,251.7 352.0,254.1 355.7,256.3 359.4,258.6 363.0,260.8 366.7,263.0 370.3,265.2 373.8,267.4 377.4,269.5 380.9,271.6 384.4,273.7 387.9,275.8 391.3,277.8 394.7,279.9 398.1,281.9 401.5,283.8 404.8,285.8 408.1,287.8 411.4,289.7 414.7,291.6 417.9,293.5 421.1,295.3 424.3,297.2 427.5,299.0 430.7,300.8 433.8,302.6 436.9,304.4 440.0,306.2 443.1,307.9 446.2,309.7 449.2,311.4 452.2,313.1 455.2,314.8 458.2,316.5 461.2,318.1 464.1,319.8 467.1,321.4 470.0,323.0 472.9,324.7 475.8,326.2 478.6,327.8 481.5,329.4"/>
<polyline points="45.5,15.0 54.6,22.7 63.4,30.0 72.0,37.1 80.4,44.0 88.6,50.6 96.5,57.0 104.4,63.2 112.0,69.2 119.4,75.1 126.8,80.7 133.9,86.2 140.9,91.6 147.8,96.8 154.6,101.9 161.2,106.8 167.8,111.6 174.2,116.3 180.5,120.9 186.7,125.4 192.8,129.8 198.8,134.1 204.7,138.3 210.5,142.4 216.2,146.5 221.9,150.4 227.4,154.3 232.9,158.1 238.3,161.8 243.7,165.4 249.0,169.0 254.2,172.5 259.3,176.0 264.4,179.4 269.4,182.7 274.4,186.0 279.3,189.2 284.1,192.4 288.9,195.5 293.6,198.6 298.3,201.7 302.9,204.6 307.5,207.6 312.0,210.5 316.5,213.3 320.9,216.1 325.3,218.9 329.7,221.6 334.0,224.3 338.2,227.0 342.4,229.6 346.6,232.2 350.8,234.8 354.9,237.3 358.9,239.8 363.0,242.2 366.9,244.6 370.9,247.0 374.8,249.4 378.7,251.7 382.6,254.1 386.4,256.3 390.2,258.6 393.9,260.8 397.7,263.0 401.4,265.2 405.0,267.4 408.7,269.5 412.3,271.6 415.9,273.7 419.5,275.8 423.0,277.8 426.5,279.9 430.0,281.9 433.4,283.8 436.9,285.8 440.3,287.8 443.7,289.7 447.0,291.6 450.3,293.5 453.7,295.3 457.0,297.2 460.2,299.0 463.5,300.8 466.7,302.6 469.9,304.4 473.1,306.2 476.2,307.9 479.4,309.7 482.5,311.4 485.6,313.1 488.7,314.8 491.8,316.5 494.8,318.1"/>
<polyline points="67.1,15.0 76.4,22.7 85.5,30.0 94.3,37.1 102.9,44.0 111.3,50.6 119.5,57.0 127.5,63.2 135.3,69.2 143.0,75.1 150.5,80.7 157.9,86.2 165.1,91.6 172.2,96.8 179.1,101.9 185.9,106.8 192.6,111.6 199.2,116.3 205.7,120.9 212.0,125.4 218.3,129.8 224.4,134.1 230.5,138.3 236.5,142.4 242.4,146.5 248.2,150.4 253.9,154.3 259.5,158.1 265.1,161.8 270.6,165.4 276.0,169.0 281.3,172.5 286.6,176.0 291.8,179.4 297.0,182.7 302.1,186.0 307.1,189.2 312.1,192.4 317.0,195.5 321.8,198.6 326.6,201.7 331.4,204.6 336.1,207.6 340.7,210.5 345.3,213.3 349.9,216.1 354.4,218.9 358.9,221.6 363.3,224.3 367.6,227.0 372.0,229.6 376.3,232.2 380.5,234.8 384.7,237.3 388.9,239.8 393.0,242.2 397.1,244.6 401.2,247.0 405.2,249.4 409.2,251.7 413.2,254.1 417.1,256.3 421.0,258.6 424.9,260.8 428.7,263.0 432.5,265.2 436.3,267.4 440.0,269.5 443.7,271.6 447.4,273.7 451.1,275.8 454.7,277.8 458.3,279.9 461.9,281.9 465.4,283.8 468.9,285.8 472.4,287.8 475.9,289.7 479.4,291.6 482.8,293.5 486.2,295.3"/>
<polyline points="88.7,15.0 98.2,22.7 107.5,30.0 116.6,37.1 125.4,44.0 134.0,50.6 142.4,57.0 150.7,63.2 158.7,69.2 166.6,75.1 174.3,80.7 181.8,86.2 189.2,91.6 196.5,96.8 203.6,101.9 210.6,106.8 217.5,111.6 224.2,116.3 230.9,120.9 237.4,125.4 243.8,129.8 250.1,134.1 256.4,138.3 262.5,142.4 268.5,146.5 274.5,150.4 280.4,154.3 286.1,158.1 291.8,161.8 297.5,165.4 303.0,169.0 308.5,172.5 313.9,176.0 319.3,179.4 324.6,182.7 329.8,186.0 334.9,189.2 340.0,192.4 345.1,195.5 350.1,198.6 355.0,201.7 359.9,204.6 364.7,207.6 369.5,210.5 374.2,213.3 378.9,216.1 383.5,218.9 388.1,221.6 392.6,224.3 397.1,227.0 401.5,229.6 405.9,232.2 410.3,234.8 414.6,237.3 418.9,239.8 423.1,242.2 427.3,244.6 431.5,247.0 435.6,249.4 439.7,251.7 443.8,254.1 447.8,256.3 451.8,258.6 455.8,260.8 459.7,263.0 463.6,265.2 467.5,267.4 471.3,269.5 475.1,271.6 478.9,273.7 482.7,275.8 486.4,277.8 490.1,279.9"/>
<polyline points="110.2,15.0 120.1,22.7 129.6,30.0 138.9,37.1 147.9,44.0 156.8,50.6 165.4,57.0 173.8,63.2 182.1,69.2 190.1,75.1 198.0,80.7 205.8,86.2 213.4,91.6 220.8,96.8 228.1,101.9 235.3,106.8 242.3,111.6 249.3,116.3 256.1,120.9 262.8,125.4 269.3,129.8 275.8,134.1 282.2,138.3 288.5,142.4 294.7,146.5 300.8,150.4 306.8,154.3 312.7,158.1 318.6,161.8 324.4,165.4 330.1,169.0 335.7,172.5 341.3,176.0 346.7,179.4 352.2,182.7 357.5,186.0 362.8,189.2 368.0,192.4 373.2,195.5 378.3,198.6 383.4,201.7 388.3,204.6 393.3,207.6 398.2,210.5 403.0,213.3 407.8,216.1 412.6,218.9 417.2,221.6 421.9,224.3 426.5,227.0 431.1,229.6 435.6,232.2 440.0,234.8 444.5,237.3 448.9,239.8 453.2,242.2 457.5,244.6 461.8,247.0 466.0,249.4 470.2,251.7 474.4,254.1 478.5,256.3 482.6,258.6"/>
<polyline points="131.8,15.0 141.9,22.7 151.7,30.0 161.2,37.1 170.5,44.0 179.5,50.6 188.3,57.0 197.0,63.2 205.4,69.2 213.7,75.1 221.8,80.7 229.7,86.2 237.5,91.6 245.1,96.8 252.6,101.9 260.0,106.8 267.2,111.6 274.3,116.3 281.3,120.9 288.1,125.4 294.9,129.8 301.5,134.1 308.1,138.3 314.5,142.4 320.8,146.5 327.1,150.4 333.3,154.3 339.4,158.1 345.3,161.8 351.3,165.4 357.1,169.0 362.9,172.5 368.6,176.0 374.2,179.4 379.7,182.7 385.2,186.0 390.6,189.2 396.0,192.4 401.3,195.5 406.5,198.6 411.7,201.7 416.8,204.6 421.9,207.6 426.9,210.5 431.9,213.3 436.8,216.1 441.6,218.9 446.4,221.6 451.2,224.3 455.9,227.0 460.6,229.6 465.2,232.2 469.8,234.8 474.3,237.3 478.8,239.8 483.3,242.2"/>
<polyline points="153.4,15.0 163.7,22.7 173.7,30.0 183.5,37.1 193.0,44.0 202.2,50.6 211.3,57.0 220.1,63.2 228.8,69.2 237.3,75.1 245.6,80.7 253.7,86.2 261.6,91.6 269.5,96.8 277.1,101.9 284.7,106.8 292.0,111.6 299.3,116.3 306.5,120.9 313.5,125.4 320.4,129.8 327.2,134.1 333.9,138.3 340.5,142.4 347.0,146.5 353.4,150.4 359.7,154.3 366.0,158.1 372.1,161.8 378.2,165.4 384.1,169.0 390.0,172.5 395.9,176.0 401.6,179.4 407.3,182.7 412.9,186.0 418.5,189.2 424.0,192.4 429.4,195.5 434.8,198.6 440.1,201.7 445.3,204.6 450.5,207.6 455.6,210.5 460.7,213.3 465.7,216.1 470.7,218.9 475.6,221.6 480.5,224.3 485.4,227.0"/>
<polyline points="175.0,15.0 185.5,22.7 195.8,30.0 205.8,37.1 215.5,44.0 225.0,50.6 234.2,57.0 243.3,63.2 252.2,69.2 260.8,75.1 269.3,80.7 277.6,86.2 285.8,91.6 293.8,96.8 301.6,101.9 309.3,106.8 316.9,111.6 324.3,116.3 331.7,120.9 338.9,125.4 345.9,129.8 352.9,134.1 359.8,138.3 366.5,142.4 373.2,146.5 379.7,150.4 386.2,154.3 392.6,158.1 398.8,161.8 405.1,165.4 411.2,169.0 417.2,172.5 423.2,176.0 429.1,179.4 434.9,182.7 440.7,186.0 446.3,189.2 451.9,192.4 457.5,195.5 463.0,198.6 468.4,201.7 473.8,204.6 479.1,207.6"/>
<polyline points="196.6,15.0 207.4,22.7 217.8,30.0 228.0,37.1 238.0,44.0 247.7,50.6 257.2,57.0 266.5,63.2 275.5,69.2 284.4,75.1 293.1,80.7 301.6,86.2 309.9,91.6 318.1,96.8 326.1,101.9 334.0,106.8 341.8,111.6 349.4,116.3 356.9,120.9 364.2,125.4 371.5,129.8 378.6,134.1 385.6,138.3 392.5,142.4 399.3,146.5 406.0,150.4 412.6,154.3 419.2,158.1 425.6,161.8 431.9,165.4 438.2,169.0 444.4,172.5 450.5,176.0 456.5,179.4 462.5,182.7 468.4,186.0 474.2,189.2 479.9,192.4"/>
<polyline points="218.2,15.0 229.2,22.7 239.9,30.0 250.3,37.1 260.5,44.0 270.4,50.6 280.1,57.0 289.6,63.2 298.9,69.2 308.0,75.1 316.8,80.7 325.5,86.2 334.1,91.6 342.4,96.8 350.6,101.9 358.7,106.8 366.6,111.6 374.4,116.3 382.1,120.9 389.6,125.4 397.0,129.8 404.3,134.1 411.4,138.3 418.5,142.4 425.5,146.5 432.3,150.4 439.1,154.3 445.8,158.1 452.3,161.8 458.8,165.4 465.2,169.0 471.6,172.5 477.8,176.0"/>
<polyline points="521,430.6 539,440.5"/>
</g>
<g shape-rendering="crispEdges" stroke-width="1">
<line x1="87.5" y1="15.5" x2="87.5" y2="469.5" stroke="#d0d0d0"/>
<line x1="128.5" y1="15.5" x2="128.5" y2="469.5" stroke="#d0d0d0"/>
<line x1="170.5" y1="15.5" x2="170.5" y2="469.5" stroke="#d0d0d0"/>
<line x1="212.5" y1="15.5" x2="212.5" y2="469.5" stroke="#d0d0d0"/>
<line x1="253.5" y1="15.5" x2="253.5" y2="469.5" stroke="#d0d0d0"/>
<line x1="295.5" y1="15.5" x2="295.5" y2="469.5" stroke="#d0d0d0"/>
<line x1="337.5" y1="15.5" x2="337.5" y2="469.5" stroke="#d0d0d0"/>
<line x1="378.5" y1="15.5" x2="378.5" y2="469.5" stroke="#8c8c8c"/>
<line x1="420.5" y1="15.5" x2="420.5" y2="469.5" stroke="#d0d0d0"/>
<line x1="462.5" y1="15.5" x2="462.5" y2="469.5" stroke="#d0d0d0"/>
<line x1="503.5" y1="15.5" x2="503.5" y2="469.5" stroke="#d0d0d0"/>
<line x1="46" y1="150.5" x2="496" y2="150.5" stroke="#999999"/>
<line x1="46" y1="229.5" x2="496" y2="229.5" stroke="#999999"/>
<line x1="46" y1="285.5" x2="496" y2="285.5" stroke="#999999"/>
<line x1="46" y1="329.5" x2="496" y2="329.5" stroke="#999999"/>
<line x1="46" y1="365.5" x2="496" y2="365.5" stroke="#999999"/>
<line x1="46" y1="395.5" x2="496" y2="395.5" stroke="#999999"/>
<line x1="46" y1="433.5" x2="546" y2="433.5" stroke="#999999"/>
<line x1="46" y1="449.5" x2="546" y2="449.5" stroke="#999999"/>
<line x1="46" y1="464.5" x2="546" y2="464.5" stroke="#999999"/>
</g>
<g stroke="#a2f374" stroke-width="1" fill="none" shape-rendering="crispEdges">
<polyline points="173.1,300.2 174.7,309.0 176.3,317.5 177.9,325.6 179.3,333.5 180.8,341.0 182.1,348.2 183.5,355.2 184.8,361.9 186.0,368.4 187.2,374.7 188.4,380.8 189.6,386.7 190.7,392.5 191.8,398.0 192.8,403.5 193.9,408.7 194.9,413.9 195.9,418.9 196.9,423.8 197.8,428.5 198.7,433.2 199.6,437.7 200.5,442.1 201.4,446.5 202.2,450.7 203.1,454.9 203.9,459.0 204.7,462.9 205.5,466.8 206.1,469.8"/>
<polyline points="199.2,300.2 201.0,309.0 202.7,317.5 204.3,325.6 205.9,333.5 207.4,341.0 208.9,348.2 210.3,355.2 211.7,361.9 213.0,368.4 214.3,374.7 215.6,380.8 216.8,386.7 218.0,392.5 219.2,398.0 220.3,403.5 221.4,408.7 222.5,413.9 223.5,418.9 224.6,423.8 225.6,428.5 226.6,433.2 227.5,437.7 228.5,442.1 229.4,446.5 230.3,450.7 231.2,454.9 232.1,459.0 232.9,462.9 233.8,466.8 234.4,469.8"/>
<polyline points="236.4,300.2 238.4,309.0 240.2,317.5 242.0,325.6 243.7,333.5 245.4,341.0 247.0,348.2 248.6,355.2 250.1,361.9 251.5,368.4 253.0,374.7 254.3,380.8 255.7,386.7 257.0,392.5 258.3,398.0 259.5,403.5 260.7,408.7 261.9,413.9 263.0,418.9 264.2,423.8 265.3,428.5 266.4,433.2 267.4,437.7 268.5,442.1 269.5,446.5 270.5,450.7 271.4,454.9 272.4,459.0 273.3,462.9 274.3,466.8 275.0,469.8"/>
<polyline points="266.9,300.2 269.0,309.0 270.9,317.5 272.9,325.6 274.7,333.5 276.5,341.0 278.2,348.2 279.9,355.2 281.5,361.9 283.1,368.4 284.6,374.7 286.1,380.8 287.5,386.7 288.9,392.5 290.3,398.0 291.6,403.5 292.9,408.7 294.2,413.9 295.4,418.9 296.6,423.8 297.8,428.5 299.0,433.2 300.1,437.7 301.2,442.1 302.3,446.5 303.4,450.7 304.4,454.9 305.4,459.0 306.5,462.9 307.4,466.8 308.2,469.8"/>
<polyline points="282.4,300.2 284.6,309.0 286.6,317.5 288.6,325.6 290.5,333.5 292.4,341.0 294.1,348.2 295.9,355.2 297.5,361.9 299.2,368.4 300.7,374.7 302.3,380.8 303.8,386.7 305.2,392.5 306.6,398.0 308.0,403.5 309.4,408.7 310.7,413.9 312.0,418.9 313.2,423.8 314.4,428.5 315.6,433.2 316.8,437.7 318.0,442.1 319.1,446.5 320.2,450.7 321.3,454.9 322.4,459.0 323.4,462.9 324.4,466.8 325.2,469.8"/>
<polyline points="299.5,300.2 301.7,309.0 303.8,317.5 305.9,325.6 307.9,333.5 309.8,341.0 311.6,348.2 313.4,355.2 315.2,361.9 316.9,368.4 318.5,374.7 320.1,380.8 321.6,386.7 323.1,392.5 324.6,398.0 326.0,403.5 327.4,408.7 328.8,413.9 330.1,418.9 331.4,423.8 332.7,428.5 334.0,433.2 335.2,437.7 336.4,442.1 337.6,446.5 338.7,450.7 339.8,454.9 340.9,459.0 342.0,462.9 343.1,466.8 343.9,469.8"/>
<polyline points="319.6,300.2 322.0,309.0 324.2,317.5 326.3,325.6 328.4,333.5 330.4,341.0 332.3,348.2 334.2,355.2 336.0,361.9 337.8,368.4 339.5,374.7 341.1,380.8 342.8,386.7 344.3,392.5 345.9,398.0 347.4,403.5 348.8,408.7 350.3,413.9 351.6,418.9 353.0,423.8 354.3,428.5 355.6,433.2 356.9,437.7 358.2,442.1 359.4,446.5 360.6,450.7 361.8,454.9 362.9,459.0 364.1,462.9 365.2,466.8 366.0,469.8"/>
<polyline points="334.4,300.2 336.8,309.0 339.1,317.5 341.3,325.6 343.5,333.5 345.5,341.0 347.5,348.2 349.5,355.2 351.3,361.9 353.2,368.4 354.9,374.7 356.6,380.8 358.3,386.7 359.9,392.5 361.5,398.0 363.1,403.5 364.6,408.7 366.0,413.9 367.5,418.9 368.9,423.8 370.3,428.5 371.6,433.2 372.9,437.7 374.2,442.1 375.5,446.5 376.7,450.7 377.9,454.9 379.1,459.0 380.3,462.9 381.5,466.8 382.3,469.8"/>
<polyline points="356.1,300.2 358.6,309.0 361.0,317.5 363.3,325.6 365.5,333.5 367.7,341.0 369.7,348.2 371.8,355.2 373.7,361.9 375.6,368.4 377.5,374.7 379.3,380.8 381.0,386.7 382.7,392.5 384.4,398.0 386.0,403.5 387.6,408.7 389.1,413.9 390.6,418.9 392.1,423.8 393.5,428.5 394.9,433.2 396.3,437.7 397.7,442.1 399.0,446.5 400.3,450.7 401.6,454.9 402.8,459.0 404.0,462.9 405.2,466.8 406.2,469.8"/>
<polyline points="371.9,300.2 374.5,309.0 377.0,317.5 379.4,325.6 381.7,333.5 383.9,341.0 386.1,348.2 388.2,355.2 390.2,361.9 392.1,368.4 394.0,374.7 395.9,380.8 397.7,386.7 399.5,392.5 401.2,398.0 402.8,403.5 404.5,408.7 406.1,413.9 407.6,418.9 409.1,423.8 410.6,428.5 412.1,433.2 413.5,437.7 414.9,442.1 416.3,446.5 417.6,450.7 418.9,454.9 420.2,459.0 421.5,462.9 422.8,466.8 423.7,469.8"/>
<polyline points="384.6,300.2 387.2,309.0 389.8,317.5 392.2,325.6 394.6,333.5 396.8,341.0 399.1,348.2 401.2,355.2 403.3,361.9 405.3,368.4 407.2,374.7 409.1,380.8 411.0,386.7 412.8,392.5 414.5,398.0 416.3,403.5 417.9,408.7 419.6,413.9 421.2,418.9 422.7,423.8 424.2,428.5 425.7,433.2 427.2,437.7 428.6,442.1 430.0,446.5 431.4,450.7 432.8,454.9 434.1,459.0 435.4,462.9 436.7,466.8 437.7,469.8"/>
<polyline points="395.1,300.2 397.8,309.0 400.4,317.5 402.9,325.6 405.3,333.5 407.6,341.0 409.9,348.2 412.1,355.2 414.2,361.9 416.2,368.4 418.2,374.7 420.2,380.8 422.1,386.7 423.9,392.5 425.7,398.0 427.4,403.5 429.2,408.7 430.8,413.9 432.4,418.9 434.0,423.8 435.6,428.5 437.1,433.2 438.6,437.7 440.1,442.1 441.5,446.5 442.9,450.7 444.3,454.9 445.7,459.0 447.0,462.9 448.3,466.8 449.3,469.8"/>
<polyline points="408.2,300.2 411.0,309.0 413.6,317.5 416.2,325.6 418.7,333.5 421.1,341.0 423.4,348.2 425.6,355.2 427.8,361.9 429.9,368.4 432.0,374.7 433.9,380.8 435.9,386.7 437.8,392.5 439.6,398.0 441.4,403.5 443.2,408.7 444.9,413.9 446.5,418.9 448.2,423.8 449.8,428.5 451.4,433.2 452.9,437.7 454.4,442.1 455.9,446.5 457.3,450.7 458.7,454.9 460.1,459.0 461.5,462.9 462.8,466.8 463.9,469.8"/>
<polyline points="425.5,300.2 428.4,309.0 431.1,317.5 433.8,325.6 436.3,333.5 438.8,341.0 441.2,348.2 443.5,355.2 445.8,361.9 448.0,368.4 450.1,374.7 452.1,380.8 454.1,386.7 456.1,392.5 458.0,398.0 459.9,403.5 461.7,408.7 463.4,413.9 465.2,418.9 466.9,423.8 468.5,428.5 470.1,433.2 471.7,437.7 473.3,442.1 474.8,446.5 476.3,450.7 477.8,454.9 479.2,459.0 480.6,462.9 482.0,466.8 483.1,469.8"/>
<polyline points="439.2,300.2 442.2,309.0 445.0,317.5 447.7,325.6 450.4,333.5 452.9,341.0 455.3,348.2 457.7,355.2 460.0,361.9 462.3,368.4 464.4,374.7 466.6,380.8 468.6,386.7 470.6,392.5 472.6,398.0 474.5,403.5 476.3,408.7 478.2,413.9 479.9,418.9 481.7,423.8 483.4,428.5 485.0,433.2 486.7,437.7 488.3,442.1 489.8,446.5 491.4,450.7 492.9,454.9 494.4,459.0 495.8,462.9 497.3,466.8 498.4,469.8"/>
</g>
<g fill="#80c824" stroke="#80c824" stroke-width="0.2" font-size="9.6" text-anchor="middle">
<text x="171.7" y="297.8">0.1</text>
<text x="197.8" y="297.8">0.2</text>
<text x="235.0" y="297.8">0.5</text>
<text x="266.9" y="297.8">1</text>
<text x="281.0" y="297.8">1.4</text>
<text x="299.5" y="297.8">2</text>
<text x="319.6" y="297.8">3</text>
<text x="334.4" y="297.8">4</text>
<text x="356.1" y="297.8">6</text>
<text x="371.9" y="297.8">8</text>
<text x="384.6" y="297.8">10</text>
<text x="395.1" y="297.8">12</text>
<text x="408.2" y="297.8">15</text>
<text x="425.5" y="297.8">20</text>
<text x="439.2" y="297.8">25</text>
</g>
<g fill="none" stroke-linejoin="round" clip-path="url(#cp)">
<polyline points="40.0,162.2 46.3,167.2 58.0,176.6 72.0,188.2 84.8,199.3 105.0,215.1 113.3,221.8 121.7,228.0 127.5,232.2 150.0,250.4 158.3,256.7 166.7,262.9 174.2,268.8 195.0,284.2 205.8,292.2 216.7,300.1 226.7,307.2 240.0,317.1 250.8,326.2 260.8,333.8 275.0,344.2 290.0,356.7 298.3,362.9 306.7,369.2 314.2,375.0 318.3,378.8 323.3,382.5 326.0,385.4 334.2,393.3" stroke="#a000b4" stroke-width="1.1"/>
<polyline points="40.0,156.0 46.3,162.0 51.0,166.7 54.5,173.7 61.5,177.2 74.3,180.9 72.0,182.4 59.2,184.2 46.9,186.5 40.0,187.5 40.0,188.5 46.9,189.4 59.2,190.6 73.2,192.6 88.3,193.5 96.5,194.4 103.5,196.4 105.0,197.6 108.8,200.5 110.4,204.7 113.3,208.4 114.6,212.6 120.0,214.7 120.8,218.0 125.0,222.6 125.8,225.1 132.5,228.0 136.7,232.2 140.0,236.0 144.2,243.0 150.0,245.0 152.1,247.9 152.5,253.3 156.7,254.6 160.8,255.4 166.7,257.5 169.2,260.8 173.3,263.8 175.8,267.5 182.5,269.6 190.4,275.2 195.0,279.7 197.5,283.8 203.3,285.1 210.8,288.8 214.2,293.0 220.0,296.3 225.8,299.7 230.8,300.9 234.2,305.5 235.4,308.0 238.0,311.5 244.5,311.8 247.9,317.5 250.8,321.7 252.5,326.7 255.8,330.8 261.7,332.3 267.5,337.0 271.7,337.3 275.0,341.7 280.0,344.4 284.0,348.0 288.2,351.9 293.3,355.8 298.3,360.0 304.6,361.7 306.7,365.8 311.7,370.0 316.7,374.2 321.2,377.9 317.1,380.0 318.3,382.9 316.2,385.0 319.2,387.9 325.0,391.7 328.2,395.8 334.4,398.7 332.5,401.2 340.0,404.5 329.8,406.3 336.7,408.3 345.0,410.8 352.5,415.0 356.0,419.8 355.0,422.3 350.0,423.7 349.8,425.5 351.8,427.5 349.3,430.5 352.0,435.6 357.0,441.7 362.0,448.3 366.9,455.2 369.3,459.0" stroke="#008000" stroke-width="2.45"/>
<polyline points="168.7,15.0 168.9,22.6 169.6,24.1 169.3,32.2 169.7,34.2 168.3,37.0 164.6,39.4 163.2,42.3 165.6,44.7 167.0,50.0 168.0,51.9 165.3,55.3 163.2,60.1 164.6,62.9 164.7,78.2 165.7,82.1 169.5,87.8 171.4,91.7 173.3,95.0 172.8,103.2 171.5,105.0 171.0,109.8 173.0,111.7 171.1,115.6 173.0,118.9 171.2,121.3 171.8,123.2 167.6,127.6 164.7,131.9 161.9,135.7 163.0,139.5 161.1,141.5 161.2,146.3 158.4,150.6 157.8,155.0 158.8,159.0 153.8,161.5 149.8,166.5 150.3,168.5 153.8,171.0 153.3,173.5 148.8,176.5 143.8,180.0 137.3,181.5 136.3,184.5 135.3,188.0 126.8,191.0 123.8,193.5 124.2,196.3 126.7,198.8 124.6,202.2 125.9,205.5 128.8,208.0 131.3,211.8 137.1,216.8 143.8,222.6 150.5,228.0 153.0,230.0 161.3,236.7 169.6,244.2 177.9,250.8 186.2,257.9 193.7,263.3 198.7,267.8 208.7,276.3 218.7,284.7 228.7,293.8 237.0,301.3 240.9,305.9 245.3,310.0 242.9,313.4 248.2,316.6 258.3,323.3 268.1,330.0 278.3,337.4 287.5,344.5 299.6,355.0 310.2,365.0 320.1,375.0 322.5,380.0 325.8,385.0 334.7,394.6 337.9,398.8 342.2,402.1 347.9,408.3 352.8,413.6 356.0,416.3 358.1,418.7 356.9,421.6 348.1,422.9 348.8,425.0 354.2,427.8 350.4,429.8 354.2,433.5 359.2,438.6 360.2,441.7 363.6,445.8 365.2,449.2 367.7,453.3 371.9,456.7 376.7,459.0" stroke="#1e5aff" stroke-width="1.1"/>
<polyline points="172.2,15.0 172.4,22.6 173.2,24.1 172.9,32.2 173.3,34.2 171.9,37.0 168.5,39.4 167.7,42.3 169.0,44.7 170.0,50.0 170.9,51.9 168.2,55.3 165.8,60.1 167.2,62.9 167.2,78.2 168.2,82.1 171.9,87.8 173.8,91.7 175.8,95.0 175.2,103.2 173.8,105.0 173.3,109.8 175.3,111.7 173.3,115.6 175.2,118.9 173.3,121.3 173.8,123.2 169.5,127.6 166.7,131.9 163.8,135.7 164.8,139.5 162.8,141.5 162.8,146.3 159.9,150.6 159.3,155.0 160.3,159.0 155.3,161.5 151.3,166.5 151.8,168.5 155.3,171.0 154.8,173.5 150.3,176.5 145.3,180.0 138.8,181.5 137.8,184.5 136.8,188.0 128.3,191.0 125.3,193.5 125.8,196.3" stroke="#800000" stroke-width="2.1"/>
<polyline points="125.8,196.3 128.2,198.8 126.1,202.2 127.4,205.5 130.3,208.0 132.8,211.8 138.7,216.8 145.3,222.6 152.0,228.0 154.5,230.0 162.8,236.7 171.2,244.2 179.5,250.8 187.8,257.9 195.3,263.3 200.3,267.8 210.3,276.3 220.3,284.7 230.3,293.8 238.7,301.3 242.6,305.9 247.0,310.0 244.6,313.4 249.9,316.6 260.0,323.3 269.9,330.0 280.1,337.4 289.9,344.5 303.1,355.0 313.9,365.0 323.9,375.0 326.4,380.0 329.9,385.0 339.8,394.6 343.5,398.8 348.2,402.1 354.1,408.3 358.6,413.6 361.0,416.3 362.2,418.7 358.8,421.6 349.8,422.9 350.2,425.0 355.6,427.8 351.8,429.8 355.7,433.5 360.7,438.6 361.7,441.7 365.1,445.8 366.7,449.2 369.2,453.3 373.4,456.7 378.2,459.0" stroke="#800000" stroke-width="2.5"/>
<polyline points="171.9,15.0 172.1,22.6 172.8,24.1 172.6,32.2 173.0,34.2 171.6,37.0 168.2,39.4 167.3,42.3 168.7,44.7 169.7,50.0 170.6,51.9 167.8,55.3 165.4,60.1 166.8,62.9 166.8,78.2 167.8,82.1 171.6,87.8 173.5,91.7 175.4,95.0 174.8,103.2 173.5,105.0 173.0,109.8 175.0,111.7 173.0,115.6 174.8,118.9 173.0,121.3 173.5,123.2 169.2,127.6 166.3,131.9 163.4,135.7 164.4,139.5 162.5,141.5 162.5,146.3 159.6,150.6 159.0,155.0 160.0,159.0 155.0,161.5 151.0,166.5 151.5,168.5 155.0,171.0 154.5,173.5 150.0,176.5 145.0,180.0 138.5,181.5 137.5,184.5 136.5,188.0 128.0,191.0 125.0,193.5 125.4,196.3" stroke="#ff0000" stroke-width="2.1"/>
<polyline points="125.4,196.3 127.9,198.8 125.8,202.2 127.1,205.5 130.0,208.0 132.5,211.8 138.3,216.8 145.0,222.6 151.7,228.0 154.2,230.0 162.5,236.7 170.8,244.2 179.2,250.8 187.5,257.9 195.0,263.3 200.0,267.8 210.0,276.3 220.0,284.7 230.0,293.8 238.3,301.3 242.2,305.9 246.6,310.0 244.2,313.4 249.5,316.6 259.6,323.3 269.4,330.0 279.6,337.4 289.4,344.5 302.5,355.0 313.3,365.0 323.3,375.0 325.8,380.0 329.2,385.0 339.1,394.6 342.8,398.8 347.5,402.1 353.3,408.3 357.8,413.6 360.2,416.3 361.4,418.7 358.0,421.6 349.0,422.9 349.4,425.0 354.8,427.8 351.0,429.8 354.8,433.5 359.8,438.6 360.8,441.7 364.2,445.8 365.8,449.2 368.3,453.3 372.5,456.7 377.3,459.0" stroke="#ff0000" stroke-width="2.5"/>
</g>
<g shape-rendering="crispEdges" stroke="#000" stroke-width="1">
<line x1="45.5" y1="15" x2="45.5" y2="469.5"/>
<line x1="45" y1="15.5" x2="591" y2="15.5"/>
</g>
<line x1="111" y1="204.5" x2="132" y2="204.5" stroke="#000" stroke-width="1" shape-rendering="crispEdges"/>
<text x="133.2" y="208.7" font-size="10" fill="#000" stroke="#000" stroke-width="0.15">Tropo</text>
<rect x="296" y="16" width="75" height="73.5" fill="#fff" fill-opacity="0.85"/>
<rect x="379" y="16" width="104" height="75" fill="#fff" fill-opacity="0.85"/>
<rect x="76" y="404" width="105" height="51" fill="#fff" fill-opacity="0.8"/>
<text x="298" y="30" font-size="11" fill="#000" textLength="56" lengthAdjust="spacingAndGlyphs">EMAGRAM</text>
<g font-size="10.3">
<text x="298" y="44.6" fill="#ff0808" textLength="55.2">temperature</text>
<text x="298" y="54.6" fill="#8c1616" textLength="42">virt.temp.</text>
<text x="298" y="64.6" fill="#189618" textLength="45.2">dew point</text>
<text x="298" y="74.6" fill="#2e6cf0" textLength="67.4">wet bulb temp.</text>
<text x="298" y="84.6" fill="#a81cc0" textLength="69.8">udpraft v.temp.</text>
<text x="382" y="31" fill="#000">Surface:</text>
<text x="386" y="43" fill="#000" textLength="79.4">press: 971.4 hPa</text>
<text x="386" y="53" fill="#ff0808">temp: -0.3 °C</text>
<text x="386" y="63" fill="#189618">dwpt: -2.5 °C</text>
<text x="386" y="77.6" fill="#000">t-conv: -0.6 °C</text>
<text x="386" y="87.6" fill="#000">t-mxfc: 6.4 °C</text>
</g>
<g font-size="11" fill="#000">
<text x="78" y="416.8">p [hPa]</text>
<text x="124" y="416.8">T</text>
<text x="147" y="416.8" textLength="31.6">Td [°C]</text>
</g>
<g font-size="10.1" fill="#000" text-anchor="end">
<text x="102" y="431.9">500</text><text x="136.2" y="431.9">-26.4</text><text x="173.4" y="431.9">-29.6</text>
<text x="102" y="441.7">700</text><text x="136.2" y="441.7">-9.3</text><text x="173.4" y="441.7">-12.0</text>
<text x="102" y="451.6">850</text><text x="136.2" y="451.6">-6.0</text><text x="173.4" y="451.6">-6.2</text>
</g>
<text x="50.3" y="12" font-size="12" font-weight="bold" fill="#000" textLength="68" lengthAdjust="spacingAndGlyphs">Praha-Libus</text>
<text x="131.4" y="12" font-size="12" font-weight="bold" fill="#000" textLength="105.2" lengthAdjust="spacingAndGlyphs">31.01.2026 12 UTC</text>
<text x="530" y="11" font-size="10.8" fill="#ff0000" textLength="66">CHMI © 2026</text>
<text x="512.5" y="495.5" font-size="10.6" fill="#1414e6" textLength="76.5">SFC: 304 m ASL</text>
<text x="197" y="496.5" font-size="11" fill="#000" xml:space="preserve">Temperature [°C]  /</text>
<text x="302.5" y="496.5" font-size="11" fill="#32b432">Mixing ratio [g/kg]</text>
<text transform="translate(10.7,333.5) rotate(-90)" font-size="11" fill="#000" xml:space="preserve">Pressure [hPa]  /</text>
<text transform="translate(10.7,243) rotate(-90)" font-size="11" fill="#0000ff">Altitude [km]</text>
<g font-size="11" fill="#000" text-anchor="middle">
<text x="30.2" y="19.4">100</text>
<text x="30.2" y="154.8">200</text>
<text x="30.2" y="234.0">300</text>
<text x="30.2" y="290.2">400</text>
<text x="30.2" y="333.8">500</text>
<text x="30.2" y="369.4">600</text>
<text x="30.2" y="399.5">700</text>
<text x="30.2" y="437.5">850</text>
<text x="30.2" y="454.0">925</text>
<text x="30.2" y="469.2">1000</text>
</g>
<g font-size="11" fill="#000" text-anchor="middle">
<text x="86.8" y="480.8">-70</text>
<text x="128.5" y="480.8">-60</text>
<text x="170.2" y="480.8">-50</text>
<text x="211.8" y="480.8">-40</text>
<text x="253.5" y="480.8">-30</text>
<text x="295.2" y="480.8">-20</text>
<text x="336.8" y="480.8">-10</text>
<text x="378.5" y="480.8">0</text>
<text x="420.2" y="480.8">10</text>
<text x="461.8" y="480.8">20</text>
<text x="503.5" y="480.8">30</text>
</g>
<g font-size="10" fill="#0000ff" stroke="#0000ff" stroke-width="0.15" xml:space="preserve">
<text x="54.2" y="19.9">16</text>
<rect x="47" y="44.80" width="6" height="1.4" fill="#0000ff" stroke="none"/>
<text x="54.2" y="49.7">15</text>
<rect x="47" y="74.80" width="6" height="1.4" fill="#0000ff" stroke="none"/>
<text x="54.2" y="79.7">14</text>
<rect x="47" y="103.80" width="6" height="1.4" fill="#0000ff" stroke="none"/>
<text x="54.2" y="108.7">13</text>
<rect x="47" y="133.80" width="6" height="1.4" fill="#0000ff" stroke="none"/>
<text x="54.2" y="138.7">12</text>
<rect x="47" y="163.80" width="6" height="1.4" fill="#0000ff" stroke="none"/>
<text x="54.2" y="168.7">11</text>
<rect x="47" y="194.80" width="6" height="1.4" fill="#0000ff" stroke="none"/>
<text x="54.2" y="199.7">10</text>
<rect x="47" y="225.80" width="6" height="1.4" fill="#0000ff" stroke="none"/>
<text x="57" y="230.7">9</text>
<rect x="47" y="255.80" width="6" height="1.4" fill="#0000ff" stroke="none"/>
<text x="57" y="260.7">8</text>
<rect x="47" y="284.80" width="6" height="1.4" fill="#0000ff" stroke="none"/>
<text x="57" y="289.7">7</text>
<rect x="47" y="312.70" width="6" height="1.4" fill="#0000ff" stroke="none"/>
<text x="57" y="317.6">6</text>
<rect x="47" y="339.80" width="6" height="1.4" fill="#0000ff" stroke="none"/>
<text x="57" y="344.7">5</text>
<rect x="47" y="365.80" width="6" height="1.4" fill="#0000ff" stroke="none"/>
<text x="57" y="370.7">4</text>
<rect x="47" y="391.70" width="6" height="1.4" fill="#0000ff" stroke="none"/>
<text x="57" y="396.6">3</text>
<rect x="47" y="416.80" width="6" height="1.4" fill="#0000ff" stroke="none"/>
<text x="57" y="421.7">2</text>
<rect x="47" y="441.70" width="6" height="1.4" fill="#0000ff" stroke="none"/>
<text x="57" y="446.6">1</text>
</g>
<line x1="45" y1="15.5" x2="80" y2="15.5" stroke="#000" stroke-width="1" shape-rendering="crispEdges"/>
<rect x="487" y="226" width="31" height="12" fill="#fafafa"/>
<text x="487.3" y="236.6" font-size="10.4" fill="#ff0000" textLength="30">MXWS</text>
<line x1="520" y1="232.5" x2="528" y2="232.5" stroke="#ff0000" stroke-width="1" shape-rendering="crispEdges"/>
<g stroke="#000" stroke-width="1" fill="#000">
<rect x="558.8" y="13.4" width="3.2" height="3.2" stroke="none"/>
<line x1="560.4" y1="15" x2="537" y2="9"/>
<line x1="537" y1="9" x2="538.5" y2="0"/>
<line x1="539.5" y1="9.6" x2="540.5" y2="4"/>
<rect x="558.8" y="43.9" width="3.2" height="3.2" stroke="none"/>
<line x1="560.4" y1="45.5" x2="543" y2="27"/>
<line x1="543" y1="27" x2="550" y2="20"/>
<line x1="545" y1="29.2" x2="552" y2="22.4"/>
<rect x="558.8" y="73.9" width="3.2" height="3.2" stroke="none"/>
<line x1="560.4" y1="75.5" x2="537.6" y2="65"/>
<line x1="537.6" y1="65" x2="540" y2="56"/>
<line x1="540" y1="66" x2="543" y2="58"/>
<rect x="558.8" y="102.8" width="3.2" height="3.2" stroke="none"/>
<line x1="560.4" y1="104.4" x2="535.6" y2="101"/>
<line x1="535.6" y1="101" x2="536.4" y2="91"/>
<line x1="538.2" y1="101.4" x2="538.4" y2="97.6"/>
<rect x="558.8" y="132.8" width="3.2" height="3.2" stroke="none"/>
<line x1="560.4" y1="134.4" x2="537.6" y2="144.4"/>
<line x1="537.6" y1="144.4" x2="533" y2="135"/>
<rect x="558.8" y="162.8" width="3.2" height="3.2" stroke="none"/>
<line x1="560.4" y1="164.4" x2="535.6" y2="170"/>
<line x1="535.6" y1="170" x2="534" y2="165"/>
<rect x="558.8" y="193.8" width="3.2" height="3.2" stroke="none"/>
<line x1="560.4" y1="195.4" x2="575.6" y2="215.6"/>
<line x1="575.6" y1="215.6" x2="567" y2="221.6"/>
<rect x="558.8" y="225.0" width="3.2" height="3.2" stroke="none"/>
<line x1="560.4" y1="226.6" x2="569.8" y2="250.8"/>
<line x1="569.8" y1="250.8" x2="559.4" y2="254.4"/>
<line x1="568.8" y1="247.8" x2="558" y2="250.8"/>
<rect x="558.8" y="254.8" width="3.2" height="3.2" stroke="none"/>
<line x1="560.4" y1="256.4" x2="574" y2="275.6"/>
<line x1="574" y1="275.6" x2="564.4" y2="281"/>
<line x1="575" y1="277.6" x2="566.4" y2="283"/>
<rect x="558.8" y="283.8" width="3.2" height="3.2" stroke="none"/>
<line x1="560.4" y1="285.4" x2="575" y2="304"/>
<line x1="575" y1="304" x2="568" y2="310"/>
<line x1="573" y1="301.6" x2="570" y2="304.4"/>
<rect x="558.8" y="311.8" width="3.2" height="3.2" stroke="none"/>
<line x1="560.4" y1="313.4" x2="580.6" y2="327"/>
<line x1="580.6" y1="327" x2="574.4" y2="335.6"/>
<rect x="558.8" y="338.8" width="3.2" height="3.2" stroke="none"/>
<line x1="560.4" y1="340.4" x2="573.6" y2="361"/>
<line x1="573.6" y1="361" x2="565" y2="366"/>
<rect x="558.8" y="364.8" width="3.2" height="3.2" stroke="none"/>
<line x1="560.4" y1="366.4" x2="578" y2="383.6"/>
<line x1="578" y1="383.6" x2="570" y2="391.6"/>
<rect x="558.8" y="390.8" width="3.2" height="3.2" stroke="none"/>
<line x1="560.4" y1="392.4" x2="564" y2="367"/>
<rect x="558.8" y="416.0" width="3.2" height="3.2" stroke="none"/>
<line x1="560.4" y1="417.6" x2="576.6" y2="435.6"/>
<line x1="576.6" y1="435.6" x2="573" y2="439.6"/>
<rect x="558.8" y="440.8" width="3.2" height="3.2" stroke="none"/>
<line x1="560.4" y1="442.4" x2="583.6" y2="450.4"/>
<line x1="583.6" y1="450.4" x2="581" y2="459.6"/>
</g>
<g stroke="#ff0000" stroke-width="1" fill="none">
<rect x="558.8" y="230.8" width="3.2" height="3.2" fill="#ff0000" stroke="none"/>
<line x1="560.4" y1="232.4" x2="568.4" y2="255.8"/>
<polygon points="567.2,252.2 568.4,255.8 559.4,259.4 558.2,257"/>
</g>
<g stroke="#0000ff" stroke-width="1" fill="#0000ff">
<rect x="558.8" y="457.8" width="3.2" height="3.2" stroke="none"/>
<line x1="560.4" y1="459.5" x2="584.5" y2="459.5" shape-rendering="crispEdges"/>
<line x1="584.5" y1="459" x2="584.5" y2="465" shape-rendering="crispEdges"/>
</g>
</svg>
</body></html>
